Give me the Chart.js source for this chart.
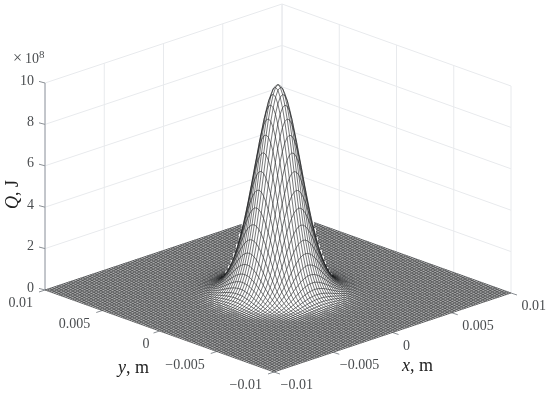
<!DOCTYPE html>
<html><head><meta charset="utf-8">
<style>html,body{margin:0;padding:0;background:#fff}canvas{display:block}</style>
<script src="https://cdn.jsdelivr.net/npm/chart.js@4"></script>
</head><body><canvas id="c" width="550" height="395"></canvas>
<script>
// ---- data ----
const peakQ = 1e9;
const profileX = [0,0,0,0,0,0,0,0,0,0,0,0,0,0,0,0,0,0,0,0,.0001,.0002,.0003,.0006,.001,.0017,.0028,.0045,.007,.011,.017,.025,.037,.052,.073,.101,.135,.178,.23,.291,.36,.438,.52,.607,.693,.775,.849,.912,.96,.99,1,.99,.96,.912,.849,.775,.693,.607,.52,.438,.36,.291,.23,.178,.135,.101,.073,.052,.037,.025,.017,.011,.007,.0045,.0028,.0017,.001,.0006,.0003,.0002,.0001,0,0,0,0,0,0,0,0,0,0,0,0,0,0,0,0,0,0,0,0];
const profileY = [0,0,0,0,0,0,0,0,0,0,0,0,0,0,0,0,0,0,0,0,.0001,.0002,.0003,.0006,.001,.0017,.0028,.0045,.007,.011,.017,.025,.037,.052,.073,.101,.135,.178,.23,.291,.36,.438,.52,.607,.693,.775,.849,.912,.96,.99,1,.99,.96,.912,.849,.775,.693,.607,.52,.438,.36,.291,.23,.178,.135,.101,.073,.052,.037,.025,.017,.011,.007,.0045,.0028,.0017,.001,.0006,.0003,.0002,.0001,0,0,0,0,0,0,0,0,0,0,0,0,0,0,0,0,0,0,0,0];
const xTicks = [-0.01,-0.005,0,0.005,0.01];
const yTicks = [-0.01,-0.005,0,0.005,0.01];
const zTicks = [0,2e8,4e8,6e8,8e8,10e8];
const xTickLabels = ['\u22120.01','\u22120.005','0','0.005','0.01'];
const yTickLabels = ['\u22120.01','\u22120.005','0','0.005','0.01'];
const zTickLabels = ['0','2','4','6','8','10'];

// ---- view: oblique projection into the chart's value space ----
const view = {cx:278, cy:291.5, xx:11850, xy:-3950, yx:-11450, yy:-4100, zy:-2.07e-7};
const proj = (x,y,z)=>({x:view.cx+view.xx*x+view.yx*y, y:view.cy+view.xy*x+view.yy*y+view.zy*z});
const step = 0.02/(profileX.length-1);
const gx = i=>-0.01+i*step;
const N = profileX.length;
const Q = (i,j)=>peakQ*profileX[i]*profileY[j];

// hidden-line test: walk from a vertex toward the viewer
const lerp=(a,t)=>{const k=Math.floor(t);return k>=a.length-1?a[a.length-1]:a[k]+(a[k+1]-a[k])*(t-k)};
const rayDy = view.xx/(-view.yx);
const rayDz = (-view.xy + -view.yy*rayDy)/(-view.zy)*step; // Q per cell of travel
const vis=[];
for(let i=0;i<N;i++){vis.push([]);for(let j=0;j<N;j++){
  let v=true;const q0=Q(i,j);
  for(let t=0.5;;t+=0.5){
    const a=i-t,b=j-t*rayDy;if(a<0||b<0)break;
    const rz=q0+rayDz*t; if(rz>peakQ)break;
    if(peakQ*lerp(profileX,a)*lerp(profileY,b)>rz+1e6){v=false;break;}
  }
  vis[i].push(v);
}}

const datasets=[];
const seg=(pts,color,width,order,extra)=>datasets.push(Object.assign({data:pts,borderColor:color,borderWidth:width,order,showLine:true,pointRadius:0,tension:0,spanGaps:false,fill:false,clip:false},extra||{}));
const GRID='#e8eaed';
// back walls
for(const t of xTicks) seg([proj(t,0.01,0),proj(t,0.01,peakQ)],GRID,1,10);
for(const t of yTicks) seg([proj(0.01,t,0),proj(0.01,t,peakQ)],GRID,1,10);
for(const z of zTicks){
  seg([proj(-0.01,0.01,z),proj(0.01,0.01,z)],GRID,1,10);
  seg([proj(0.01,0.01,z),proj(0.01,-0.01,z)],GRID,1,10);
}
// z axis + ticks
seg([proj(-0.01,0.01,0),proj(-0.01,0.01,peakQ)],'#9298a0',1,3);
const TICK='#8a8f94';
for(const z of zTicks){const p=proj(-0.01,0.01,z);seg([p,{x:p.x-6,y:p.y-1.6}],TICK,1,3);}
for(const t of yTicks){const p=proj(-0.01,t,0);seg([p,{x:p.x-6,y:p.y+2}],TICK,1,3);}
for(const t of xTicks){const p=proj(t,-0.01,0);seg([p,{x:p.x+6,y:p.y+2}],TICK,1,3);}

// white body of the surface: upper outline of every vertex, filled downward
const outline=new Map();
for(let i=0;i<N;i++)for(let j=0;j<N;j++){
  const p=proj(gx(i),gx(j),Q(i,j));const b=Math.round(p.x/2)*2;
  if(!outline.has(b)||outline.get(b)>p.y)outline.set(b,p.y);
}
const body=[...outline.entries()].sort((a,b)=>a[0]-b[0]).map(([x,y])=>({x,y}));
seg(body,'rgba(255,255,255,0)',0,5,{fill:{value:300},backgroundColor:'#fff'});

// mesh lines
const MESH='#1c1e20',MW=0.6;
for(let i=0;i<N;i++){
  const a=[],b=[];
  for(let j=0;j<N;j++){
    a.push(vis[i][j]?proj(gx(i),gx(j),Q(i,j)):{x:proj(gx(i),gx(j),0).x,y:null});
    b.push(vis[j][i]?proj(gx(j),gx(i),Q(j,i)):{x:proj(gx(j),gx(i),0).x,y:null});
  }
  seg(a,MESH,MW,1);seg(b,MESH,MW,1);
}

const textPlugin={id:'txt',afterDraw(ch){
  const c=ch.ctx,sx=ch.scales.x,sy=ch.scales.y;
  const px=p=>[sx.getPixelForValue(p.x),sy.getPixelForValue(p.y)];
  const font='"Liberation Serif"';
  c.save();c.fillStyle='#4a4d50';c.textBaseline='middle';c.font='14px '+font;
  c.textAlign='right';
  zTicks.forEach((z,k)=>{const [a,b]=px(proj(-0.01,0.01,z));c.fillText(zTickLabels[k],a-11,b-2);});
  yTicks.forEach((t,k)=>{const [a,b]=px(proj(-0.01,t,0));c.fillText(yTickLabels[k],a+(yTicks[k]===0?-10:-12),b+13.5);});
  c.textAlign='left';
  xTicks.forEach((t,k)=>{const [a,b]=px(proj(t,-0.01,0));c.fillText(xTickLabels[k],a+(t<0?6.5:10.5),b+13.5);});
  // multiplier
  const [mx,my]=px(proj(-0.01,0.01,peakQ));
  c.font='16px '+font;c.fillText('\u00d7',mx-32,my-24);
  c.font='14px '+font;c.fillText('10',mx-20,my-24);
  c.font='11px '+font;c.fillText('8',mx-6,my-28);
  // axis titles
  const run=(parts,x,y)=>{c.textAlign='left';let u=x;for(const [s,st] of parts){c.font=st+' 18px '+font;c.fillText(s,u,y);u+=c.measureText(s).width;}};
  c.fillStyle='#222';
  run([['y','italic'],[', m','normal']],118,368);
  run([['x','italic'],[', m','normal']],402,366);
  c.save();c.translate(13,193);c.rotate(-Math.PI/2);
  run([['Q','italic'],[', J','normal']],-16,0);
  c.restore();
  c.restore();
}};

new Chart(document.getElementById('c'),{
  type:'scatter',
  data:{datasets},
  plugins:[textPlugin],
  options:{responsive:false,animation:false,events:[],
    layout:{padding:0},
    plugins:{legend:{display:false},tooltip:{enabled:false},title:{display:false}},
    scales:{
      x:{type:'linear',display:false,min:0,max:550},
      y:{type:'linear',display:false,min:0,max:395,reverse:true}
    }
  }
});
</script></body></html>
